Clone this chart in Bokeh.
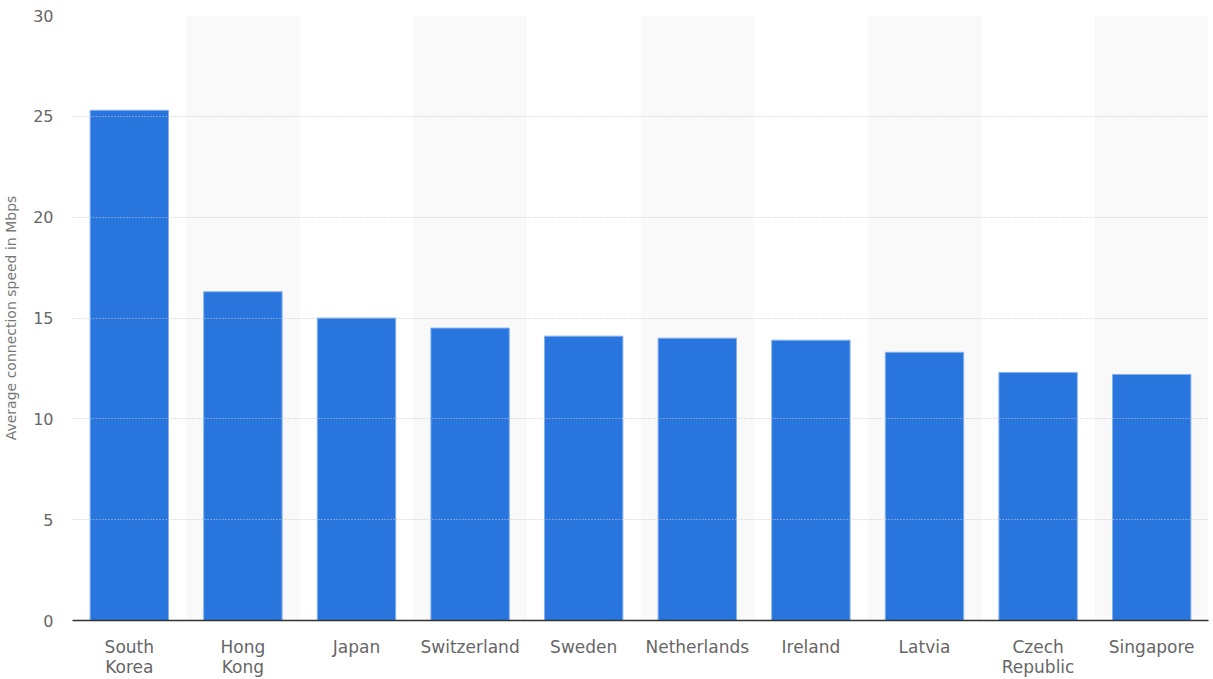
from bokeh.plotting import figure
from bokeh.models import ColumnDataSource, FactorRange, Range1d, SingleIntervalTicker
from bokeh.embed import file_html
from bokeh.resources import INLINE

countries = ["South\nKorea", "Hong\nKong", "Japan", "Switzerland", "Sweden",
             "Netherlands", "Ireland", "Latvia", "Czech\nRepublic", "Singapore"]
speeds = [25.3, 16.3, 15.0, 14.5, 14.1, 14.0, 13.9, 13.3, 12.3, 12.2]
y_max = 30

p = figure(x_range=FactorRange(*countries, range_padding=0),
           y_range=Range1d(0, y_max),
           width=1213, height=679, output_backend="svg", toolbar_location=None,
           min_border_left=72, min_border_right=5, min_border_top=15, min_border_bottom=58)
p.outline_line_color = None

band_src = ColumnDataSource(dict(x=countries[1::2], top=[y_max] * len(countries[1::2])))
p.vbar(x="x", top="top", width=1.0, source=band_src, fill_color="#f9f9f9", line_color=None)

src = ColumnDataSource(dict(x=countries, top=speeds))
p.vbar(x="x", top="top", width=0.69, source=src, fill_color="#2876dd",
       line_color="#86b0ec", line_width=1)

p.xgrid.grid_line_color = None
p.ygrid.grid_line_color = "#c4c4c4"
p.ygrid.grid_line_dash = "1 2"
p.ygrid.level = "overlay"

p.yaxis.ticker = SingleIntervalTicker(interval=5)
p.yaxis.axis_line_color = None
p.yaxis.major_tick_line_color = None
p.yaxis.minor_tick_line_color = None
p.yaxis.major_tick_out = 0
p.yaxis.major_tick_in = 0
p.yaxis.major_label_text_font = "DejaVu Sans"
p.yaxis.major_label_text_font_size = "16px"
p.yaxis.major_label_text_color = "#666666"
p.yaxis.major_label_standoff = 15
p.yaxis.axis_label = "Average connection speed in Mbps"
p.yaxis.axis_label_text_font = "DejaVu Sans"
p.yaxis.axis_label_text_font_size = "14px"
p.yaxis.axis_label_text_font_style = "normal"
p.yaxis.axis_label_text_color = "#777777"
p.yaxis.axis_label_standoff = 11

p.xaxis.axis_line_color = "#333333"
p.xaxis.axis_line_width = 1.5
p.xaxis.major_tick_line_color = None
p.xaxis.minor_tick_line_color = None
p.xaxis.major_tick_out = 0
p.xaxis.major_tick_in = 0
p.xaxis.major_label_text_font = "DejaVu Sans"
p.xaxis.major_label_text_font_size = "17px"
p.xaxis.major_label_text_line_height = 1.0
p.xaxis.major_label_text_color = "#666666"
p.xaxis.major_label_standoff = 16

open("out.html", "w").write(file_html(p, INLINE))
